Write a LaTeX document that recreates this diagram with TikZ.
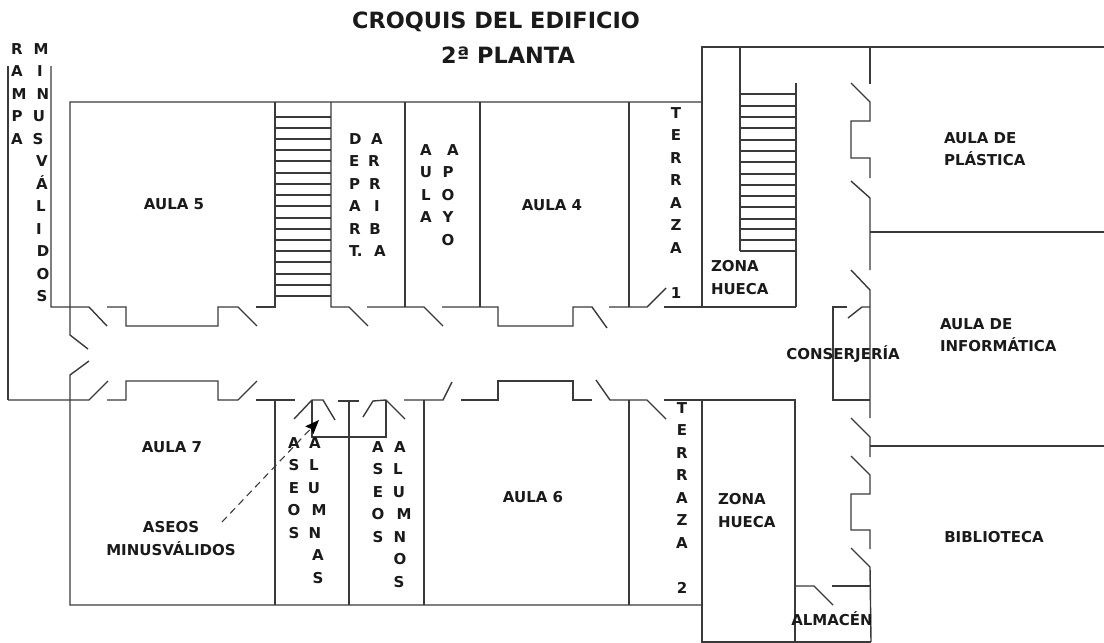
\documentclass[tikz,border=0pt]{standalone}
\usepackage{fontspec}
\setmainfont{DejaVu Sans}
\usetikzlibrary{arrows.meta}
\definecolor{wallc}{HTML}{3A3A3A}
\definecolor{inkc}{HTML}{1A1A1A}
\newcommand\shx[1]{\hspace*{#1pt}}
\tikzset{
  wall/.style={draw=wallc,line width=1.4pt,line cap=butt,line join=miter},
  lab/.style={inner sep=0pt,outer sep=0pt,text=inkc,font=\bfseries\fontsize{15}{22.5}\selectfont},
  labm/.style={lab,align=center,anchor=north,yshift=5.5pt},
  labl/.style={lab,align=left,anchor=north west,yshift=5.5pt},
  ttl/.style={inner sep=0pt,outer sep=0pt,text=inkc,font=\bfseries\fontsize{22.4}{26}\selectfont},
}
\begin{document}
\begin{tikzpicture}[x=1pt,y=-1pt]
\useasboundingbox (0,0) rectangle (1104,643);
% ramp
\draw[wall] (8,66) -- (8,400);
\draw[wall] (51,66) -- (51,307) -- (89,307) -- (107,326);
% outer rectangle of west wing
\draw[wall] (702,102) -- (70,102) -- (70,335) -- (88,349);
\draw[wall] (89,361) -- (70,375) -- (70,605) -- (702,605);
% north corridor wall
\draw[wall] (107,307) -- (126,307) -- (126,326) -- (218,326) -- (218,307) -- (238,307) -- (257,326);
\draw[wall] (256,307) -- (275,307) -- (275,102);
\draw[wall] (331,102) -- (331,307) -- (349,307) -- (368,326);
\draw[wall] (367,307) -- (424,307) -- (443,326);
\draw[wall] (442,307) -- (498,307) -- (498,326) -- (573,326) -- (573,307) -- (592,307) -- (607,328);
\draw[wall] (609,307) -- (647,307) -- (666,288);
\draw[wall] (664,307) -- (796,307);
\draw[wall] (405,102) -- (405,307);
\draw[wall] (480,102) -- (480,307);
\draw[wall] (629,102) -- (629,307);
% stairs west
\foreach \yy in {117,128,139,150,161,173,184,195,206,218,229,240,251,262,274,285,296}
  \draw[wall] (275,\yy) -- (331,\yy);
% south corridor wall
\draw[wall] (8,400) -- (89,400) -- (108,381);
\draw[wall] (107,400) -- (126,400) -- (126,381) -- (218,381) -- (218,400) -- (238,400) -- (257,381);
\draw[wall] (256,400) -- (295,400);
\draw[wall] (275,400) -- (275,605);
\draw[wall] (294,419) -- (312,400) -- (323,400) -- (335,420);
\draw[wall] (312,400) -- (312,437) -- (386,437) -- (386,400);
\draw[wall] (338,401) -- (359,401);
\draw[wall] (349,401) -- (349,605);
\draw[wall] (363,417) -- (373,401) -- (386,400) -- (405,419);
\draw[wall] (404,400) -- (443,400) -- (452,382);
\draw[wall] (424,400) -- (424,605);
\draw[wall] (461,400) -- (498,400) -- (498,381) -- (573,381) -- (573,400) -- (592,400);
\draw[wall] (596,380) -- (610,400) -- (647,400) -- (666,419);
\draw[wall] (664,400) -- (796,400);
\draw[wall] (629,400) -- (629,605);
% east block
\draw[wall] (702,307) -- (702,47) -- (1104,47);
\draw[wall] (702,400) -- (702,642) -- (871,642);
\draw[wall] (740,47) -- (740,251);
\draw[wall] (796,83) -- (796,307);
\foreach \yy in {94,106,117,128,140,151,162,174,185,196,207,219,229,240,251}
  \draw[wall] (740,\yy) -- (796,\yy);
\draw[wall] (795,400) -- (795,642);
\draw[wall] (795,586) -- (814,586) -- (833,605);
\draw[wall] (832,586) -- (870,586);
% east wall
\draw[wall] (870,47) -- (870,84);
\draw[wall] (851,83) -- (870,102) -- (870,121) -- (851,121) -- (851,158) -- (870,158) -- (870,178);
\draw[wall] (851,181) -- (870,198) -- (870,270);
\draw[wall] (870,232) -- (1104,232);
\draw[wall] (851,270) -- (870,290) -- (870,418);
\draw[wall] (847,307) -- (833,307) -- (833,400) -- (870,400);
\draw[wall] (848,318) -- (862,307) -- (870,307);
\draw[wall] (851,418) -- (870,437) -- (870,457);
\draw[wall] (870,446) -- (1104,446);
\draw[wall] (851,456) -- (870,475) -- (870,494) -- (851,494) -- (851,530) -- (870,530) -- (870,549);
\draw[wall] (851,548) -- (870,567) -- (871,642);
% titles
\node[ttl] (title) at (496,22) {CROQUIS DEL EDIFICIO};
\node[ttl] (planta) at (508,55) {2ª PLANTA};
% room labels
\node[lab] (a5) at (174,204) {AULA 5};
\node[lab] (a4) at (552,205) {AULA 4};
\node[lab] (a7) at (172,447) {AULA 7};
\node[lab] (a6) at (533,497) {AULA 6};
\node[lab] (bib) at (994,537) {BIBLIOTECA};
\node[lab] (cons) at (843,354) {CONSERJERÍA};
\node[lab] (alm) at (832,619) {ALMACÉN};
\node[labl] (apl) at (944,138) {AULA DE\\PLÁSTICA};
\node[labl] (ainf) at (940,324) {AULA DE\\INFORMÁTICA};
\node[labl] (zh1) at (711,266) {ZONA\\HUECA};
\node[labl] (zh2) at (718,499) {ZONA\\HUECA};
\node[labm] (asm) at (171,527) {ASEOS\\MINUSVÁLIDOS};
% vertical labels
\node[labm] (rampa) at (17,49) {R\\A\\\shx{4}M\\P\\A};
\node[labm] (minus) at (41,49) {M\\\shx{-2}I\\\shx{4}N\\\shx{-4}U\\\shx{-6}S\\\shx{2}V\\\shx{2}Á\\L\\\shx{-4}I\\\shx{4}D\\\shx{4}O\\\shx{2}S};
\node[labl] (dep) at (349,139) {D\\E\\P\\A\\R\\T.};
\node[labm] (arr) at (377,139) {A\\\shx{-6}R\\\shx{-4}R\\I\\\shx{-4}B\\\shx{6}A};
\node[labm] (aul) at (426,150) {A\\U\\L\\A};
\node[labm] (apo) at (448,150) {\shx{10}A\\P\\O\\Y\\O};
\node[labm] (t1) at (676,113) {T\\E\\R\\R\\A\\Z\\A\\\mbox{}\\1};
\node[labm] (t2) at (682,408) {T\\E\\R\\R\\A\\Z\\A\\\mbox{}\\2};
\node[labm] (as1) at (294,443) {A\\S\\E\\O\\S};
\node[labm] (al1) at (315,443) {A\\\shx{-2}L\\\shx{-2}U\\\shx{8}M\\N\\\shx{6}A\\\shx{6}S};
\node[labm] (as2) at (378,447) {A\\S\\E\\O\\S};
\node[labm] (al2) at (400,447) {A\\\shx{-4}L\\\shx{-2}U\\\shx{8}M\\N\\O\\\shx{-2}S};
% dashed pointer
\coordinate (ptrs) at (222,522);
\coordinate (ptre) at (319,420);
\draw[wallc,line width=1.1pt,dash pattern=on 7pt off 5pt,-{Stealth[length=14pt,width=11pt,inset=2pt,color=black]}] (ptrs) -- (ptre);
\end{tikzpicture}
\end{document}
